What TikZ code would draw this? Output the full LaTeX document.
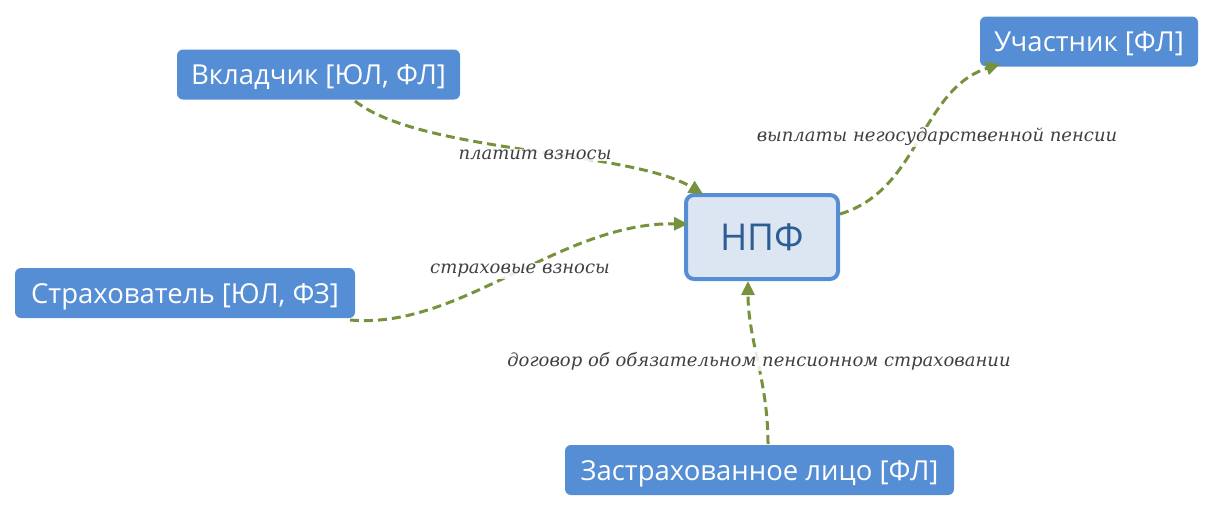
\documentclass[tikz,border=0pt]{standalone}
\usepackage{fontspec}
\setmainfont{Open Sans}
\newfontfamily\lblfont{DejaVu Serif}
\usetikzlibrary{arrows.meta}
\definecolor{boxblue}{HTML}{558ED5}
\definecolor{npffill}{HTML}{DCE6F2}
\definecolor{npftext}{HTML}{2E5C94}
\definecolor{arrgreen}{HTML}{76923C}
\definecolor{lbltext}{HTML}{404040}
\tikzset{
  actor/.style={fill=boxblue, rounded corners=6pt, text=white, font=\fontsize{27.5}{32}\selectfont, inner sep=0pt, minimum height=50pt, text height=20.5pt, text depth=0pt},
  npfbox/.style={fill=npffill, draw=boxblue, line width=4pt, rounded corners=8pt, text=npftext, font=\fontsize{37}{42}\selectfont, inner sep=0pt, minimum width=152pt, minimum height=84pt, text height=26pt, text depth=0pt},
  flow/.style={draw=arrgreen, line width=3pt, dash pattern=on 9pt off 5pt, -{Triangle[length=14pt,width=13pt]}},
  lbl/.style={fill=white, fill opacity=0.85, text opacity=1, text=lbltext, inner sep=1pt, font=\lblfont\itshape\fontsize{18}{21}\selectfont}
}
\begin{document}
\begin{tikzpicture}[x=1pt,y=-1pt]
\useasboundingbox (0,0) rectangle (1215,512);
\node[actor, minimum width=283pt] (vkl) at (318.5,74.5) {Вкладчик [ЮЛ, ФЛ]};
\node[actor, minimum width=218pt] (uch) at (1089,41.5) {Участник [ФЛ]};
\node[actor, minimum width=340pt] (str) at (185,293) {Страхователь [ЮЛ, ФЗ]};
\node[actor, minimum width=389pt] (zas) at (759.5,470) {Застрахованное лицо [ФЛ]};
\node[npfbox] (npf) at (762,237) {НПФ};
\coordinate (a1) at (355,101);
\coordinate (a2) at (350,320);
\coordinate (a3) at (840,214);
\coordinate (a4) at (768,444);
\coordinate (b1) at (703,194);
\coordinate (b2) at (688,224);
\coordinate (b3) at (1000,64);
\coordinate (b4) at (748,281);
\draw[flow] (a1) .. controls (420,153) and (630,150) .. (b1);
\draw[flow] (a2) .. controls (460,330) and (560,222) .. (b2);
\draw[flow] (a3) .. controls (920,190) and (920,90) .. (b3);
\draw[flow] (a4) .. controls (768,380) and (748,340) .. (b4);
\node[lbl] (l1) at (535,155) {платит взносы};
\node[lbl] (l2) at (520,271) {страховые взносы};
\node[lbl] (l3) at (937,137) {выплаты негосударственной пенсии};
\node[lbl] (l4) at (759,361) {договор об обязательном пенсионном страховании};
\end{tikzpicture}
\end{document}
